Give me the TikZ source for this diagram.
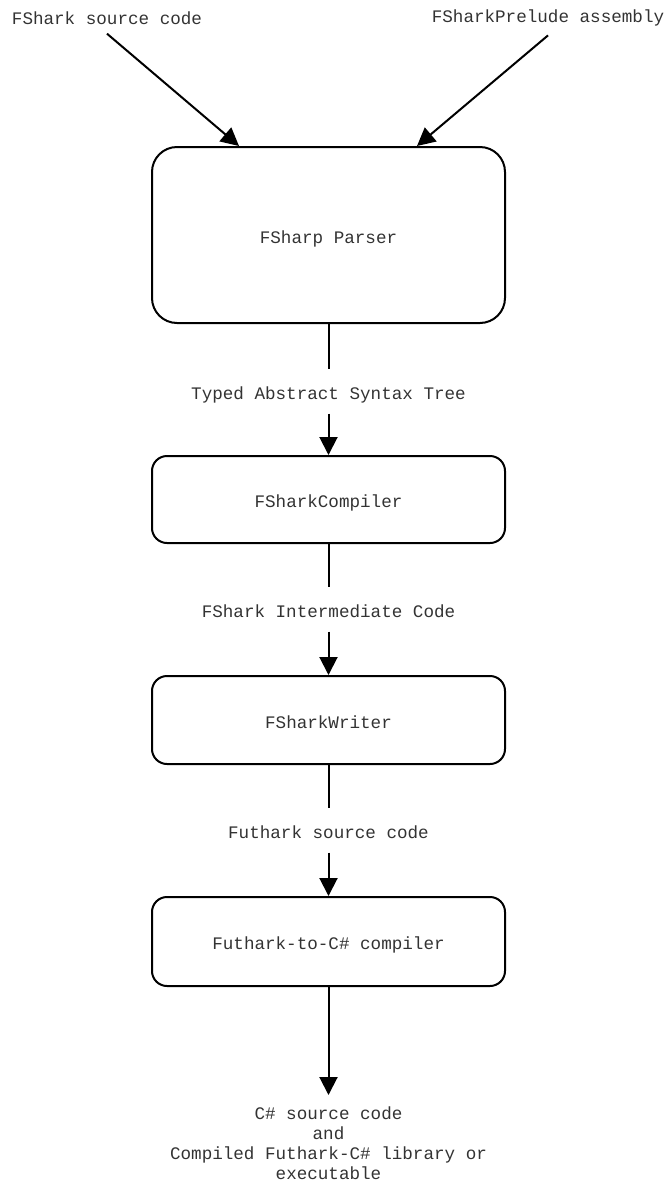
\documentclass[tikz,border=0pt]{standalone}
\usepackage{fontspec}
\setmonofont{Liberation Mono}
\usetikzlibrary{arrows.meta}
\tikzset{
  every node/.style={font=\ttfamily\fontsize{17.6}{20}\selectfont, text=black!80},
  stage/.style={draw=black, line width=2pt, minimum width=353pt, rounded corners=15pt,
    inner sep=0pt, text height=16pt, text depth=0pt},
  tag/.style={inner xsep=2pt, inner ysep=14pt, outer sep=0pt, text height=17pt, text depth=0pt},
  flow/.style={line width=2pt, -{Triangle[length=18pt,width=18pt]}},
  plain/.style={line width=2pt}
}
\begin{document}
\begin{tikzpicture}[x=1pt,y=-1pt]
  \useasboundingbox (0,0) rectangle (665,1181);

  % inputs
  \node[inner ysep=9pt] (src) at (107,18) {FShark source code};
  \node[inner ysep=9pt] (pre) at (548,18) {FSharkPrelude assembly};

  % pipeline stages
  \node[stage, minimum height=176pt, rounded corners=25pt] (parser) at (328.5,235) {FSharp Parser};
  \node[stage, minimum height=87pt] (comp) at (328.5,499.5) {FSharkCompiler};
  \node[stage, minimum height=88pt] (writer) at (328.5,720) {FSharkWriter};
  \node[stage, minimum height=89pt] (fut) at (328.5,941.5) {Futhark-to-C\# compiler};

  % intermediate products
  \node[tag] (tast) at (328.5,391) {Typed Abstract Syntax Tree};
  \node[tag] (inter) at (328.5,609) {FShark Intermediate Code};
  \node[tag] (fsrc) at (328.5,830) {Futhark source code};
  \node[align=center, inner xsep=4pt, inner ysep=12pt, anchor=north] (out) at (328.5,1095)
    {C\# source code\\and\\Compiled Futhark-C\# library or\\executable};

  % connectors
  \draw[flow] (src.south) -- ([xshift=-89.5pt]parser.north);
  \draw[flow] (pre.south) -- ([xshift=88.5pt]parser.north);
  \draw[plain] (parser) -- (tast);
  \draw[flow] (tast) -- (comp);
  \draw[plain] (comp) -- (inter);
  \draw[flow] (inter) -- (writer);
  \draw[plain] (writer) -- (fsrc);
  \draw[flow] (fsrc) -- (fut);
  \draw[flow] (fut) -- (out);
\end{tikzpicture}
\end{document}
